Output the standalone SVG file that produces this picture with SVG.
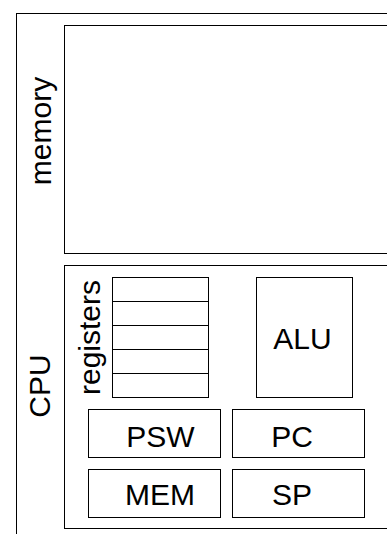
<svg xmlns="http://www.w3.org/2000/svg" width="387" height="534" viewBox="0 0 387 534">
<style>
.box{fill:#fff;stroke:#000;stroke-width:1}
.ln{stroke:#000;stroke-width:1;fill:none}
text{font-family:"Liberation Sans",Arial,sans-serif;font-size:30px;fill:#000}
.m{text-anchor:middle}
</style>
<rect width="387" height="534" fill="#fff"/>
<g id="outer">
<rect class="box" x="16.5" y="13.5" width="400" height="560"/>
</g>
<g id="memory">
<rect class="box" x="64.5" y="25.5" width="340" height="228"/>
<text class="m" transform="translate(51,131) rotate(-90)">memory</text>
</g>
<g id="cpu">
<rect class="box" x="64.5" y="265.5" width="340" height="263"/>
<text class="m" transform="translate(50,386) rotate(-90)">CPU</text>
</g>
<g id="registers">
<rect class="box" x="112.5" y="277.5" width="96" height="120"/>
<path class="ln" d="M112.5 301.5H208.5M112.5 325.5H208.5M112.5 349.5H208.5M112.5 373.5H208.5"/>
<text class="m" transform="translate(100,337.5) rotate(-90)">registers</text>
</g>
<g id="alu">
<rect class="box" x="256.5" y="277.5" width="96" height="120"/>
<text class="m" x="302.5" y="349">ALU</text>
</g>
<g id="psw">
<rect class="box" x="88.5" y="409.5" width="132" height="48"/>
<text class="m" x="160.5" y="447">PSW</text>
</g>
<g id="pc">
<rect class="box" x="232.5" y="409.5" width="132" height="48"/>
<text class="m" x="292" y="447">PC</text>
</g>
<g id="mem">
<rect class="box" x="88.5" y="469.5" width="132" height="48"/>
<text class="m" x="160" y="505">MEM</text>
</g>
<g id="sp">
<rect class="box" x="232.5" y="469.5" width="132" height="48"/>
<text class="m" x="292" y="505">SP</text>
</g>
<g id="connectors"></g>
</svg>
